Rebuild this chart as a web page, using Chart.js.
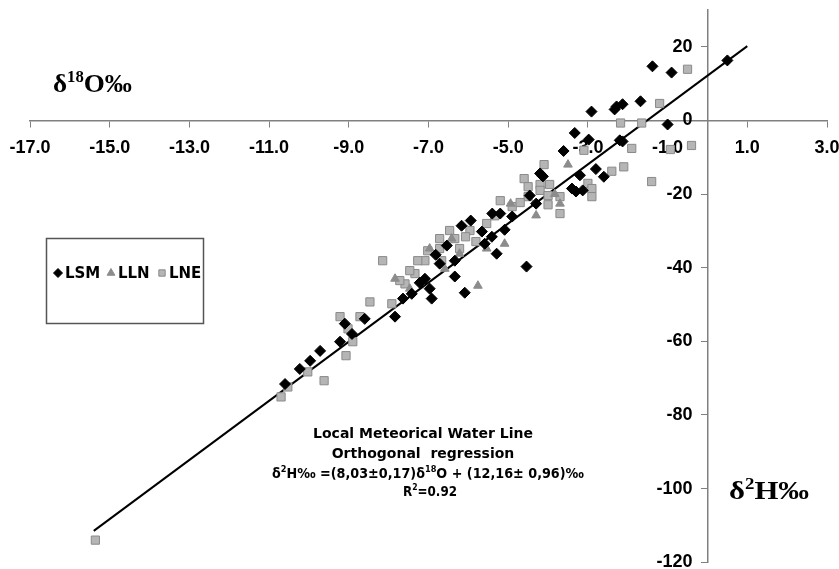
<!DOCTYPE html>
<html>
<head>
<meta charset="utf-8">
<script src="https://cdn.jsdelivr.net/npm/chart.js@4.4.1/dist/chart.umd.min.js"></script>
<style>
  html, body { margin: 0; padding: 0; background: #fff; overflow: hidden; }
</style>
</head>
<body>
<canvas id="chart" width="839" height="569"></canvas>
<script>
const xTicks = [-17, -15, -13, -11, -9, -7, -5, -3, -1, 1, 3];
const yTicks = [20, 0, -20, -40, -60, -80, -100, -120];

// LSM (black diamonds)
const lsmX = [0.5, -0.9, -1.38, -1.68, -1.0, -2.91, -2.33, -2.28, -2.13, -3.33, -2.98, -2.2, -2.13, -3.61, -2.8, -3.2, -2.6, -4.2, -4.13, -3.4, -3.3, -3.13, -4.46, -4.3, -5.4, -5.2, -4.9,
  -7.84, -7.64, -8.92, -9.22, -9.72, -9.97, -10.23, -10.6, -9.1, -8.6, -6.97, -7.09, -7.42, -6.09, -6.34, -6.72, -4.54, -5.29, -5.59,
  -6.17, -5.94, -5.66, -5.41, -5.09, -6.54, -6.82, -6.34, -7.22, -6.92];
const lsmY = [16.3, 13.0, 14.7, 5.2, -1.1, 2.4, 3.0, 3.8, 4.4, -3.4, -5.2, -5.4, -5.7, -8.3, -13.2, -14.9, -15.3, -14.4, -15.2, -18.5, -19.3, -19.0, -20.4, -22.6, -25.3, -25.3, -26.1,
  -53.3, -48.4, -58.0, -60.1, -62.6, -65.3, -67.5, -71.6, -55.2, -53.9, -45.7, -43.0, -47.1, -46.8, -42.4, -38.9, -39.7, -36.2, -33.5,
  -28.6, -27.2, -30.2, -31.6, -29.7, -34.0, -36.5, -38.1, -44.1, -48.4];

// LLN (grey triangles)
const llnX = [-3.5, -3.83, -3.7, -4.94, -4.3, -5.76, -6.59, -6.97, -6.22, -7.47, -7.84, -6.42, -5.54, -5.09];
const llnY = [-12.0, -20.0, -22.6, -22.6, -25.8, -44.9, -40.3, -34.8, -36.2, -45.7, -43.0, -32.1, -34.8, -33.5];

// LNE (grey squares)
const lneX = [-0.5, -1.2, -1.65, -0.93, -0.4, -1.4, -2.18, -1.9, -3.1, -2.1, -2.4, -4.1, -4.6, -4.5, -4.2, -3.96, -3.0, -2.9, -2.9, -4.2, -4.5, -4.0, -3.7, -4.0, -3.7, -5.2, -4.9, -4.7,
  -9.22, -9.02, -8.9, -9.07, -9.62, -10.03, -10.53, -10.7, -8.47, -8.15, -7.92, -7.59, -7.34, -7.09, -6.72, -6.34, -5.96, -15.36, -8.72,
  -6.47, -6.07, -5.81, -6.72, -7.02, -7.27, -7.47, -7.72, -6.67, -6.22, -5.54, -5.34];
const lneY = [13.9, 4.6, -0.7, -7.9, -6.8, -16.6, -0.7, -7.6, -8.1, -12.6, -13.8, -12.0, -15.8, -18.0, -17.4, -17.4, -17.1, -18.5, -20.7, -19.0, -20.7, -20.4, -20.7, -22.9, -25.3, -21.8, -23.4, -22.3,
  -53.3, -56.6, -60.1, -63.9, -70.7, -68.3, -72.4, -75.1, -49.3, -38.1, -49.8, -44.4, -41.6, -38.1, -34.8, -32.1, -29.9, -114.0, -53.3,
  -29.9, -31.6, -32.9, -32.1, -35.4, -38.1, -40.8, -43.5, -38.1, -34.8, -28.0, -25.9];

// regression line end points
const lineX = [-15.4, 1.0];
const lineY = [-111.5, 20.2];

const TICK_FONT = "'Liberation Sans', Arial, sans-serif";
const NOTE_FONT = "'DejaVu Sans', sans-serif";
const TITLE_FONT = "'Liberation Serif', 'Times New Roman', serif";

function pts(xs, ys) { return xs.map((x, i) => ({ x: x, y: ys[i] })); }

// text built from normal / superscript runs, optionally squeezed to a width
function richText(ctx, runs, x, y, size, family, align, width) {
  const big = "bold " + size + "px " + family;
  const small = "bold " + Math.round(size * 0.62) + "px " + family;
  let w = 0;
  runs.forEach(r => { ctx.font = r[1] ? small : big; w += ctx.measureText(r[0]).width; });
  const k = width ? width / w : 1;
  ctx.save();
  ctx.translate(align === "center" ? x - w * k / 2 : x, y);
  ctx.scale(k, 1);
  ctx.textBaseline = "alphabetic";
  ctx.textAlign = "left";
  let cx = 0;
  runs.forEach(r => {
    ctx.font = r[1] ? small : big;
    ctx.fillText(r[0], cx, r[1] ? -size * 0.4 : 0);
    cx += ctx.measureText(r[0]).width;
  });
  ctx.restore();
}

const textPlugin = {
  id: "texts",
  afterDraw(chart) {
    const ctx = chart.ctx;
    ctx.save();
    ctx.fillStyle = "#000";
    // axis titles
    richText(ctx, [["δ", 0], ["18", 1], ["O‰", 0]], 53, 92, 26, TITLE_FONT, "left", 79);
    richText(ctx, [["δ", 0], ["2", 1], ["H‰", 0]], 729, 499, 26, TITLE_FONT, "left", 80);

    // regression note
    richText(ctx, [["Local Meteorical Water Line", 0]], 423, 438, 14, NOTE_FONT, "center");
    richText(ctx, [["Orthogonal  regression", 0]], 423, 458, 14, NOTE_FONT, "center");
    richText(ctx, [["δ", 0], ["2", 1], ["H‰ =(8,03±0,17)δ", 0], ["18", 1], ["O + (12,16± 0,96)‰", 0]], 428, 478, 14, NOTE_FONT, "center", 312);
    richText(ctx, [["R", 0], ["2", 1], ["=0.92", 0]], 430, 496, 14, NOTE_FONT, "center", 54);

    // legend box
    ctx.strokeStyle = "#555";
    ctx.lineWidth = 1.5;
    ctx.strokeRect(46.5, 238.5, 157, 85);
    const items = [
      { x: 58, label: "LSM", ds: 0 },
      { x: 111, label: "LLN", ds: 1 },
      { x: 162, label: "LNE", ds: 2 }
    ];
    items.forEach(it => {
      const d = chart.data.datasets[it.ds];
      ctx.fillStyle = d.backgroundColor;
      ctx.strokeStyle = d.borderColor;
      ctx.lineWidth = 1;
      Chart.helpers.drawPoint(ctx, { pointStyle: d.pointStyle, radius: 4.5, borderWidth: 1, rotation: 0 }, it.x, 273);
      ctx.fillStyle = "#000";
      ctx.font = "bold 15px " + NOTE_FONT;
      ctx.textBaseline = "middle";
      ctx.fillText(it.label, it.x + 7, 274);
    });
    ctx.restore();
  }
};

new Chart(document.getElementById("chart"), {
  type: "scatter",
  data: {
    datasets: [
      { label: "LSM", data: pts(lsmX, lsmY), pointStyle: "rectRot", radius: 5.5, backgroundColor: "#000", borderColor: "#000", borderWidth: 1 },
      { label: "LLN", data: pts(llnX, llnY), pointStyle: "triangle", radius: 5, backgroundColor: "#8c8c8c", borderColor: "#8c8c8c", borderWidth: 1 },
      { label: "LNE", data: pts(lneX, lneY), pointStyle: "rect", radius: 5.8, backgroundColor: "#b5b5b5", borderColor: "#8a8a8a", borderWidth: 1 },
      { type: "line", label: "LMWL", data: pts(lineX, lineY), borderColor: "#000", borderWidth: 2, pointRadius: 0, fill: false }
    ]
  },
  options: {
    responsive: false,
    animation: false,
    devicePixelRatio: 1,
    layout: { padding: { left: 30, right: 12, top: 10, bottom: 6 } },
    plugins: { legend: { display: false }, tooltip: { enabled: false } },
    scales: {
      x: {
        type: "linear",
        min: -17, max: 3,
        position: { y: 0 },
        afterBuildTicks: s => { s.ticks = xTicks.map(v => ({ value: v })); },
        afterFit: s => { s.paddingLeft = 0; s.paddingRight = 0; },
        ticks: { color: "#000", font: { family: TICK_FONT, size: 18, weight: "bold" }, padding: 11, callback: v => v.toFixed(1), maxRotation: 0, autoSkip: false },
        grid: { drawOnChartArea: false, color: "#808080", tickLength: 6 },
        border: { color: "#808080", width: 1.5 }
      },
      y: {
        type: "linear",
        min: -120, max: 30,
        position: { x: 0 },
        afterBuildTicks: s => { s.ticks = yTicks.map(v => ({ value: v })); },
        afterFit: s => { s.paddingTop = 0; s.paddingBottom = 0; },
        // trailing spaces keep the labels clear of the axis line
        ticks: { color: "#000", font: { family: TICK_FONT, size: 18, weight: "bold" }, callback: v => v + "   ", autoSkip: false },
        grid: { drawOnChartArea: false, color: "#808080", tickLength: 6 },
        border: { color: "#808080", width: 1.5 }
      }
    }
  },
  plugins: [textPlugin]
});
</script>
</body>
</html>
